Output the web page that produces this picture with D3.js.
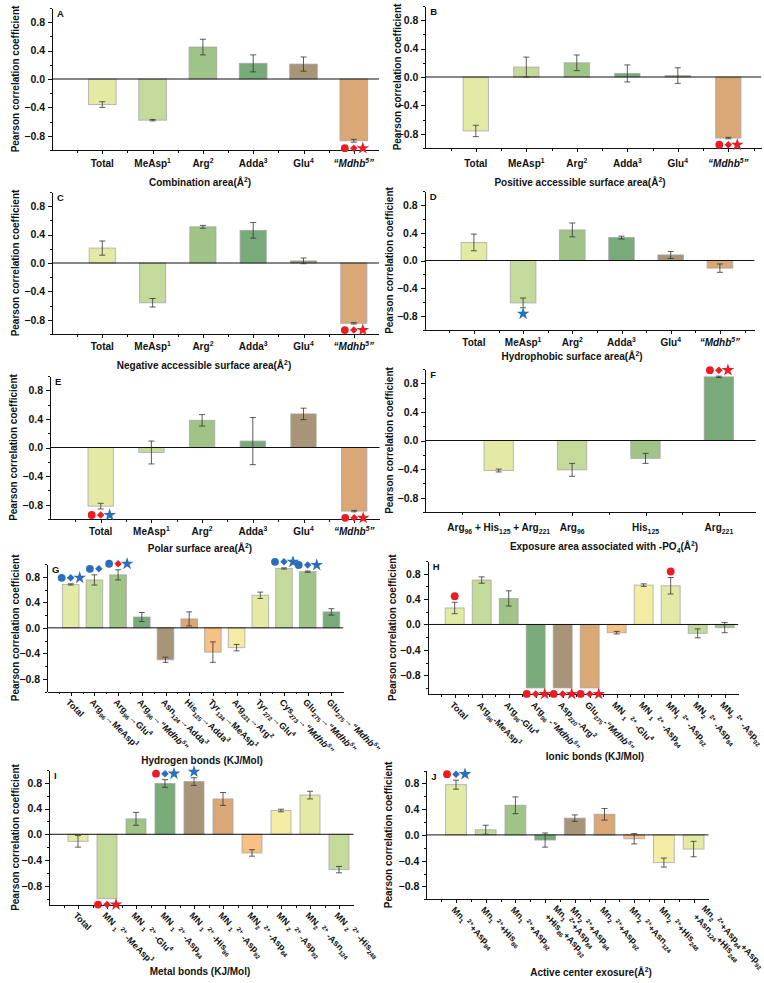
<!DOCTYPE html>
<html lang="en">
<head>
<meta charset="UTF-8">
<title>Pearson correlation panels</title>
<script src="https://d3js.org/d3.v7.min.js"></script>
<style>
  body { margin: 0; background: #fff; }
  svg text { font-family: "Liberation Sans", Arial, sans-serif; font-weight: bold; fill: #111; white-space: pre; }
  .axis path, .axis line { stroke: #111; shape-rendering: crispEdges; }
</style>
</head>
<body>
<svg id="fig"></svg>
<script>
// ---- data ----
const catsBasic = ["Total", "MeAsp^{1}", "Arg^{2}", "Adda^{3}", "Glu^{4}", "|“Mdhb^{5}”|"];
const catsF = ["Arg_{96} + His_{125} + Arg_{221}", "Arg_{96}", "His_{125}", "Arg_{221}"];
const catsG = ["Total", "Arg_{96}→MeAsp^{1}", "Arg_{96}→Glu^{4}", "Arg_{96}→|“Mdhb^{5}”|",
  "Asn_{124}→Adda^{3}", "His_{125}→Adda^{3}", "Tyr_{134}→MeAsp^{1}", "Arg_{221}→Arg^{2}",
  "Tyr_{272}→Glu^{4}", "Cys_{273}→|“Mdhb^{5}”|", "Glu_{275}→|“Mdhb^{5}”|", "Glu_{275}→|“Mdhb^{5}”|"];
const catsH = ["Total", "Arg_{96}-MeAsp^{1}", "Arg_{96}-Glu^{4}", "Arg_{96} -|“Mdhb^{5}”|",
  "Asp_{220}-Arg^{2}", "Glu_{275}-|“Mdhb^{5}”|", "MN _{1} ^{2+} -Glu^{4}", "MN _{1} ^{2+} -Asp_{84}",
  "MN_{1} ^{2+} -Asp_{92}", "MN_{2} ^{2+} -Asp_{84}", "MN_{2} ^{2+} -Asp_{92}"];
const catsI = ["Total", "MN _{1} ^{2+} -MeAsp^{1}", "MN _{1} ^{2+} -Glu^{4}", "MN _{1} ^{2+} -Asp_{84}",
  "MN _{1} ^{2+} -His_{86}", "MN _{1} ^{2+} -Asp_{92}", "MN_{2} ^{2+} -Asp_{84}", "MN _{2} ^{2+} -Asp_{92}",
  "MN_{2} ^{2+} -Asn_{124}", "MN _{2} ^{2+} -His_{248}"];
const catsJ = ["Mn_{1} ^{2+}+Asp_{84}", "Mn_{1} ^{2+}+His_{86}", "Mn_{1} ^{2+}+Asp_{92}",
  "Mn_{1} ^{2+}+Asp_{84}\n+His_{86}+Asp_{92}", "Mn_{2} ^{2+}+Asp_{84}", "Mn_{2} ^{2+}+Asp_{92}",
  "Mn_{2} ^{2+}+Asn_{124}", "Mn_{2} ^{2+}+His_{248}", "Mn_{2} ^{2+}+Asp_{84}+Asp_{92}\n+Asn_{124}+His_{248}"];

const yMajor = [-0.8, -0.4, 0, 0.4, 0.8];
const yMinor = [-1.0, -0.6, -0.2, 0.2, 0.6, 1.0];

// values, error bars, significance marks (circle, diamond, star: r = red, b = blue, - = none)
const valA = [-0.36, -0.58, 0.45, 0.22, 0.21, -0.87];
const errA = [0.04, 0.01, 0.11, 0.12, 0.10, 0.02];
const markA = ["", "", "", "", "", "rrr"];

const valB = [-0.76, 0.14, 0.20, 0.05, 0.02, -0.86];
const errB = [0.08, 0.14, 0.11, 0.12, 0.11, 0.01];
const markB = ["", "", "", "", "", "rrr"];

const valC = [0.21, -0.56, 0.51, 0.46, 0.03, -0.85];
const errC = [0.10, 0.06, 0.02, 0.11, 0.04, 0.01];
const markC = ["", "", "", "", "", "rrr"];

const valD = [0.26, -0.61, 0.44, 0.33, 0.08, -0.11];
const errD = [0.12, 0.07, 0.10, 0.02, 0.05, 0.06];
const markD = ["", "--b", "", "", "", ""];

const valE = [-0.82, -0.07, 0.38, 0.09, 0.47, -0.89];
const errE = [0.04, 0.16, 0.08, 0.33, 0.08, 0.01];
const markE = ["rrb", "", "", "", "", "rrr"];

const valF = [-0.42, -0.41, -0.25, 0.89];
const errF = [0.02, 0.09, 0.07, 0.01];
const markF = ["", "", "", "rrr"];

const valG = [0.68, 0.75, 0.83, 0.17, -0.50, 0.14, -0.38, -0.31, 0.51, 0.93, 0.88, 0.25];
const errG = [0.01, 0.08, 0.08, 0.07, 0.04, 0.11, 0.16, 0.05, 0.05, 0.01, 0.01, 0.05];
const markG = ["bbb", "bb-", "brb", "", "", "", "", "", "", "bbb", "bbb", ""];

const valH = [0.26, 0.70, 0.41, -1.0, -1.0, -1.0, -0.13, 0.62, 0.61, -0.14, -0.05];
const errH = [0.09, 0.05, 0.12, 0, 0, 0, 0.02, 0.02, 0.13, 0.07, 0.08];
const markH = ["r--", "", "", "rrr", "rrr", "rrr", "", "", "r--", "", ""];

const valI = [-0.11, -1.0, 0.24, 0.79, 0.82, 0.55, -0.29, 0.37, 0.61, -0.55];
const errI = [0.09, 0, 0.10, 0.06, 0.06, 0.10, 0.05, 0.02, 0.06, 0.05];
const markI = ["", "rrr", "", "rbb", "--b", "", "", "", "", ""];

const valJ = [0.78, 0.08, 0.46, -0.08, 0.26, 0.32, -0.06, -0.43, -0.22];
const errJ = [0.07, 0.07, 0.13, 0.11, 0.05, 0.09, 0.08, 0.07, 0.12];
const markJ = ["rbb", "", "", "", "", "", "", "", ""];

// ---- styles ----
const palette = ["#e4eaa6", "#c4da9b", "#a0c388", "#78ab79", "#a89477", "#daa877", "#f6c182", "#f5eca4"];
const markColor = { r: "#ec1c24", b: "#2a6dbb" };
const FS_TICK = 10.5, FS_CAT = 10, FS_ROT = 9, FS_TITLE = 10, FS_YT = 10;

const svg = d3.select("#fig").attr("width", 764).attr("height", 983);
svg.append("rect").attr("width", 764).attr("height", 983).attr("fill", "#fff");

// marker shapes: circle, diamond (rotated square), star
function markPath(k) {
  if (k === 0) return d3.symbol(d3.symbolCircle, 48)();
  if (k === 1) return d3.symbol(d3.symbolSquare, 28)();
  return d3.symbol(d3.symbolStar, 50)();
}

// simple markup: _{sub} ^{sup} | toggles italic
function rich(sel, str, fs) {
  const parts = str.split(/(_\{[^}]*\}|\^\{[^}]*\}|\|)/).filter(s => s !== "");
  let italic = false, shift = 0;
  parts.forEach(s => {
    if (s === "|") { italic = !italic; return; }
    let target = 0, size = fs, txt = s;
    if (s.startsWith("_{")) { target = fs * 0.3; size = fs * 0.68; txt = s.slice(2, -1); }
    else if (s.startsWith("^{")) { target = -fs * 0.4; size = fs * 0.68; txt = s.slice(2, -1); }
    sel.append("tspan")
      .attr("dy", target - shift)
      .attr("font-size", size)
      .attr("font-style", italic ? "italic" : null)
      .text(txt);
    shift = target;
  });
}

function drawPanel(p) {
  const g = svg.append("g");
  const n = p.cats.length;
  const x = d3.scaleLinear().domain([0, p.xMax]).range([p.left, p.left + p.xMax * p.step]);
  const y = d3.scaleLinear().domain(p.yDom || [-1, 1]).range([p.bottom, p.top]);

  // y axis
  g.append("g").attr("class", "axis")
    .attr("transform", `translate(${p.left},0)`)
    .call(d3.axisLeft(y).tickValues(yMajor).tickFormat(d3.format(".1f")).tickSize(4).tickSizeOuter(0).tickPadding(3))
    .call(a => a.selectAll("text").attr("font-size", FS_TICK));
  g.append("g").attr("class", "axis")
    .attr("transform", `translate(${p.left},0)`)
    .call(d3.axisLeft(y).tickValues(yMinor.filter(v => v >= y.domain()[0] && v <= y.domain()[1])).tickFormat("").tickSize(2))
    .call(a => a.select(".domain").remove());

  // x axis
  g.append("g").attr("class", "axis")
    .attr("transform", `translate(0,${p.bottom})`)
    .call(d3.axisBottom(x).tickValues(d3.range(1, n + 1)).tickFormat("").tickSize(4).tickSizeOuter(0));
  g.append("g").attr("class", "axis")
    .attr("transform", `translate(0,${p.bottom})`)
    .call(d3.axisBottom(x).tickValues(d3.range(0.5, p.xMax, 1)).tickFormat("").tickSize(2.5))
    .call(a => a.select(".domain").remove());

  // bars
  const bw = p.barFrac * p.step;
  g.selectAll(".bar").data(p.vals).join("rect")
    .attr("x", (d, i) => x(i + 1) - bw / 2)
    .attr("width", bw)
    .attr("y", d => y(Math.max(0, d)))
    .attr("height", d => Math.abs(y(d) - y(0)))
    .attr("fill", (d, i) => palette[i % palette.length])
    .attr("stroke", "#a3a3a3").attr("stroke-width", 1).attr("stroke-opacity", 0.75);

  // zero line
  g.append("line")
    .attr("x1", x(0)).attr("x2", x(p.xMax))
    .attr("y1", y(0)).attr("y2", y(0))
    .attr("stroke", "#111").attr("stroke-width", 1);

  // error bars
  const cap = Math.min(6, bw * 0.35);
  p.vals.forEach((v, i) => {
    const e = p.errs[i];
    if (!e) return;
    const cx = x(i + 1);
    const eg = g.append("g").attr("stroke", "#333").attr("stroke-width", 0.8);
    eg.append("line").attr("x1", cx).attr("x2", cx).attr("y1", y(v - e)).attr("y2", y(v + e));
    eg.append("line").attr("x1", cx - cap / 2).attr("x2", cx + cap / 2).attr("y1", y(v - e)).attr("y2", y(v - e));
    eg.append("line").attr("x1", cx - cap / 2).attr("x2", cx + cap / 2).attr("y1", y(v + e)).attr("y2", y(v + e));
  });

  // significance marks
  p.marks.forEach((m, i) => {
    if (!m) return;
    const v = p.vals[i], e = p.errs[i];
    const my = v < 0 ? y(v - e) + 6 : y(v + e) - 6;
    const items = [];
    m.split("").forEach((c, k) => { if (c !== "-") items.push({ c, k }); });
    items.forEach((it, j) => {
      const mx = x(i + 1) + (j - (items.length - 1) / 2) * 9;
      g.append("path")
        .attr("d", markPath(it.k))
        .attr("transform", `translate(${mx},${my})` + (it.k === 1 ? " rotate(45)" : ""))
        .attr("fill", markColor[it.c]);
    });
  });

  // category labels
  p.cats.forEach((c, i) => {
    if (!p.rotated) {
      const t = g.append("text").attr("x", x(i + 1)).attr("y", p.labelY)
        .attr("text-anchor", "middle").attr("font-size", FS_CAT);
      rich(t, c, FS_CAT);
    } else {
      const lines = c.split("\n");
      const multi = lines.length > 1;
      const lg = g.append("g")
        .attr("transform", `translate(${x(i + 1) - 3},${p.bottom + 9}) rotate(45)`);
      lines.forEach((ln, k) => {
        const t = lg.append("text").attr("x", multi ? 8 : 0)
          .attr("y", multi ? (k - (lines.length - 1)) * 12 + 5 : 3)
          .attr("font-size", FS_ROT);
        rich(t, ln, FS_ROT);
      });
    }
  });

  // axis titles
  const xt = g.append("text").attr("x", p.titleX).attr("y", p.titleY)
    .attr("text-anchor", "middle").attr("font-size", FS_TITLE);
  rich(xt, p.title, FS_TITLE);
  g.append("text")
    .attr("transform", `translate(${p.yTitleX},${(p.top + p.bottom) / 2}) rotate(-90)`)
    .attr("text-anchor", "middle").attr("dy", "0.35em").attr("font-size", FS_YT)
    .text("Pearson correlation coefficient");

  // panel letter
  g.append("text").attr("x", p.left + 5).attr("y", p.top + 9)
    .attr("font-size", 9.5).text(p.letter);
}

const panels = [
  { letter: "A", cats: catsBasic, vals: valA, errs: errA, marks: markA, title: "Combination area(Å^{2})",
    left: 52, step: 50.3, xMax: 6.5, top: 8, bottom: 150, barFrac: 0.55, labelY: 166.5, titleY: 185.5, titleX: 200, yTitleX: 15 },
  { letter: "B", cats: catsBasic, vals: valB, errs: errB, marks: markB, title: "Positive accessible surface area(Å^{2})",
    left: 425.3, step: 50.5, xMax: 6.65, top: 6, bottom: 148, barFrac: 0.5, labelY: 166.8, titleY: 186, titleX: 580, yTitleX: 397 },
  { letter: "C", cats: catsBasic, vals: valC, errs: errC, marks: markC, title: "Negative accessible surface area(Å^{2})",
    left: 52, step: 50.3, xMax: 6.5, top: 192, bottom: 334, barFrac: 0.52, labelY: 350, titleY: 368.5, titleX: 204, yTitleX: 15 },
  { letter: "D", cats: catsBasic, vals: valD, errs: errD, marks: markD, title: "Hydrophobic surface area(Å^{2})",
    left: 424.7, step: 49.2, xMax: 6.7, top: 191, bottom: 330, barFrac: 0.52, labelY: 346, titleY: 360, titleX: 572, yTitleX: 389 },
  { letter: "E", cats: catsBasic, vals: valE, errs: errE, marks: markE, title: "Polar surface area(Å^{2})",
    left: 50, step: 50.7, xMax: 6.5, top: 376, bottom: 519, barFrac: 0.5, labelY: 535, titleY: 551.8, titleX: 200, yTitleX: 13.5 },
  { letter: "F", cats: catsF, vals: valF, errs: errF, marks: markF, title: "Exposure area associated with -PO_{4}(Å^{2})",
    left: 425.3, step: 73.4, xMax: 4.5, top: 369, bottom: 512, barFrac: 0.4, labelY: 531, titleY: 550, titleX: 604, yTitleX: 389 },
  { letter: "G", cats: catsG, vals: valG, errs: errG, marks: markG, title: "Hydrogen bonds (KJ/Mol)", rotated: true,
    left: 47, step: 23.7, xMax: 12.5, top: 564, bottom: 691.7, barFrac: 0.7, titleY: 763.5, titleX: 202, yTitleX: 15.7 },
  { letter: "H", cats: catsH, vals: valH, errs: errH, marks: markH, title: "Ionic bonds (KJ/Mol)", rotated: true, yDom: [-1.1, 1],
    left: 427.7, step: 27, xMax: 11.5, top: 561, bottom: 694.3, barFrac: 0.7, titleY: 760, titleX: 595, yTitleX: 392 },
  { letter: "I", cats: catsI, vals: valI, errs: errI, marks: markI, title: "Metal bonds (KJ/Mol)", rotated: true, yDom: [-1.1, 1],
    left: 49, step: 29, xMax: 10.5, top: 770, bottom: 905, barFrac: 0.69, titleY: 975, titleX: 200, yTitleX: 15 },
  { letter: "J", cats: catsJ, vals: valJ, errs: errJ, marks: markJ, title: "Active center exosure(Å^{2})", rotated: true,
    left: 426.3, step: 29.7, xMax: 9.5, top: 770.5, bottom: 899.3, barFrac: 0.7, titleY: 976, titleX: 591, yTitleX: 388.7 }
];

panels.forEach(drawPanel);
</script>
</body>
</html>
